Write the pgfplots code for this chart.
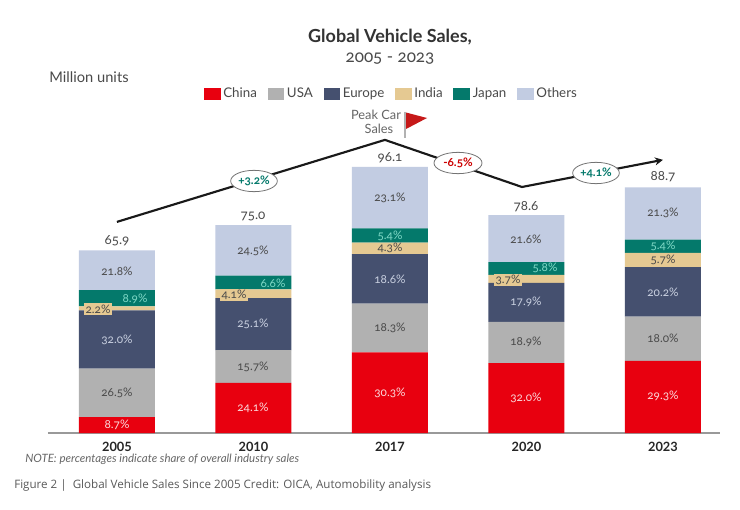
\documentclass[border=0pt]{standalone}
\usepackage{pgfplots}
\pgfplotsset{compat=1.18}
\usepackage{fontspec}
\setmainfont[Numbers=OldStyle]{Lato}
\newfontfamily\capfont{Open Sans}
\usetikzlibrary{shapes.geometric,arrows.meta}
\definecolor{cChina}{HTML}{E8000F}
\definecolor{cUSA}{HTML}{B1B1B1}
\definecolor{cEurope}{HTML}{45506F}
\definecolor{cIndia}{HTML}{E5C992}
\definecolor{cJapan}{HTML}{04796B}
\definecolor{cOthers}{HTML}{C2CCE2}
\definecolor{txt}{HTML}{4A4A4A}
\definecolor{ltxt}{HTML}{C9D0E0}
\definecolor{gtxt}{HTML}{7FD8C6}
\pgfplotstableread{
x China USA Europe India Japan Others
0 5.7 17.5 21.1 1.4 5.9 14.3
1 18.1 11.8 18.8 3.1 5.0 18.2
2 29.1 17.6 17.9 4.1 5.2 22.2
3 25.2 14.9 14.1 2.9 4.6 16.9
4 26.0 16.0 17.9 5.1 4.8 18.9
}\sales
\newcommand\T[4][txt]{\node[text=#1,font=\fontsize{#4}{#4}\selectfont,inner sep=0pt] at (#2,#3)}
\newcommand\I[3]{\node[fill=cIndia,inner sep=1pt,text=txt,font=\fontsize{8.8}{8.8}\selectfont] at (#1,#2) {#3}}
\begin{document}
\begin{tikzpicture}
\path[fill=white] (0,0) rectangle (555pt,-382.5pt);
\begin{axis}[
  at={(36pt,-324.75pt)},anchor=south west,
  scale only axis,width=504pt,height=249.75pt,
  xmin=-0.505,xmax=4.418,ymin=0,ymax=120.2,
  axis x line=bottom,axis y line=none,
  axis line style={draw=gray!80,line width=0.8pt,-},
  x axis line style={-},
  ybar stacked,bar width=57pt,
  xtick={0,1,2,3,4},xticklabels={2005,2010,2017,2020,2023},
  xtick style={draw=none},
  xticklabel style={font=\fontsize{9.6}{9.6}\selectfont\bfseries\addfontfeature{Numbers=Lining},text=black!85,yshift=-1.5pt},
  clip=false,
  legend style={draw=none,fill=none,legend columns=6,
    at={(rel axis cs:0.5115,1.018)},anchor=center,
    font=\fontsize{10}{10}\selectfont\color{txt},
    /tikz/every even column/.append style={column sep=6pt},inner sep=0pt},
  legend image code/.code={\fill[#1,draw=none] (0cm,-0.16cm) rectangle (0.44cm,0.16cm);},
]
\addplot[fill=cChina,draw=none] table[x=x,y=China]{\sales};
\addplot[fill=cUSA,draw=none] table[x=x,y=USA]{\sales};
\addplot[fill=cEurope,draw=none] table[x=x,y=Europe]{\sales};
\addplot[fill=cIndia,draw=none] table[x=x,y=India]{\sales};
\addplot[fill=cJapan,draw=none] table[x=x,y=Japan]{\sales};
\addplot[fill=cOthers,draw=none] table[x=x,y=Others]{\sales};
\legend{China,USA,Europe,India,Japan,Others}
\end{axis}
\begin{axis}[
  at={(36pt,-324.75pt)},anchor=south west,
  scale only axis,width=504pt,height=249.75pt,
  xmin=-0.505,xmax=4.418,ymin=0,ymax=120.2,
  hide axis,clip=false]
\addplot[black!90,line width=1.6pt,-{Stealth[length=6pt,width=6pt]}] coordinates {(0,76.2)(1.963,105.8)(2.967,88.8)(4,98.6)};
\end{axis}
\begin{scope}[x=0.75pt,y=-0.75pt]
% titles and peak label
\T[black!80]{390}{37}{13.5}{\bfseries Global Vehicle Sales,};
\T{390}{59}{12.8}{2005 - 2023};
\T{89}{77}{11}{Million units};
\T[black!60]{376}{115}{9.6}{Peak Car};
\T[black!60]{379}{129}{9.6}{Sales};
% flag
\fill[red!75!black!90] (404,112) -- (427,118) -- (406,129) -- cycle;
\draw[black!30,line width=0.8pt] (405,112) -- (405,138);
% totals
\T{117}{241}{10}{65.9};
\T{253}{216}{10}{75.0};
\T{390}{158}{10}{96.1};
\T{526}{207}{10}{78.6};
\T{663}{177}{10}{88.7};
% 2005
\T[white!85!cChina]{117}{425}{8.8}{8.7\%};
\T{117}{393}{8.8}{26.5\%};
\T[ltxt]{117}{340}{8.8}{32.0\%};
\I{98}{309}{2.2\%};
\T[gtxt]{135}{299}{8.8}{8.9\%};
\T{117}{271}{8.8}{21.8\%};
% 2010
\T[white!85!cChina]{253}{408}{8.8}{24.1\%};
\T{253}{367}{8.8}{15.7\%};
\T[ltxt]{253}{324}{8.8}{25.1\%};
\I{234}{295}{4.1\%};
\T[gtxt]{273}{283}{8.8}{6.6\%};
\T{253}{251}{8.8}{24.5\%};
% 2017
\T[white!85!cChina]{390}{393}{8.8}{30.3\%};
\T{390}{328}{8.8}{18.3\%};
\T[ltxt]{390}{279}{8.8}{18.6\%};
\T{390}{248}{8.8}{4.3\%};
\T[gtxt]{390}{236}{8.8}{5.4\%};
\T{390}{198}{8.8}{23.1\%};
% 2020
\T[white!85!cChina]{526}{398}{8.8}{32.0\%};
\T{526}{342}{8.8}{18.9\%};
\T[ltxt]{526}{302}{8.8}{17.9\%};
\I{508}{280}{3.7\%};
\T[gtxt]{545}{268}{8.8}{5.8\%};
\T{526}{239}{8.8}{21.6\%};
% 2023
\T[white!85!cChina]{663}{396}{8.8}{29.3\%};
\T{663}{338}{8.8}{18.0\%};
\T[ltxt]{663}{292}{8.8}{20.2\%};
\T{663}{260}{8.8}{5.7\%};
\T[gtxt]{663}{246}{8.8}{5.4\%};
\T{663}{213}{8.8}{21.3\%};
% ellipses
\node[ellipse,draw=black!55,fill=white,line width=0.6pt,inner sep=0pt,minimum width=35pt,minimum height=16pt,font=\fontsize{8.8}{8.8}\selectfont\bfseries\color{cJapan}] at (254,181) {+3.2\%};
\node[ellipse,draw=black!55,fill=white,line width=0.6pt,inner sep=0pt,minimum width=36pt,minimum height=16pt,font=\fontsize{8.8}{8.8}\selectfont\bfseries\color{red!80!black}] at (458,163) {-6.5\%};
\node[ellipse,draw=black!55,fill=white,line width=0.6pt,inner sep=0pt,minimum width=35pt,minimum height=16pt,font=\fontsize{8.8}{8.8}\selectfont\bfseries\color{cJapan}] at (596,173) {+4.1\%};
% notes
\node[anchor=west,inner sep=0pt,text=black!60,font=\fontsize{8.6}{8.6}\selectfont\itshape] at (25,459) {NOTE: percentages indicate share of overall industry sales};
\node[anchor=west,inner sep=0pt,text=black!65,font=\capfont\fontsize{8.7}{8.7}\selectfont] at (14,485) {Figure 2 | \ Global Vehicle Sales Since 2005 Credit: OICA, Automobility analysis};
\end{scope}
\end{tikzpicture}
\end{document}
